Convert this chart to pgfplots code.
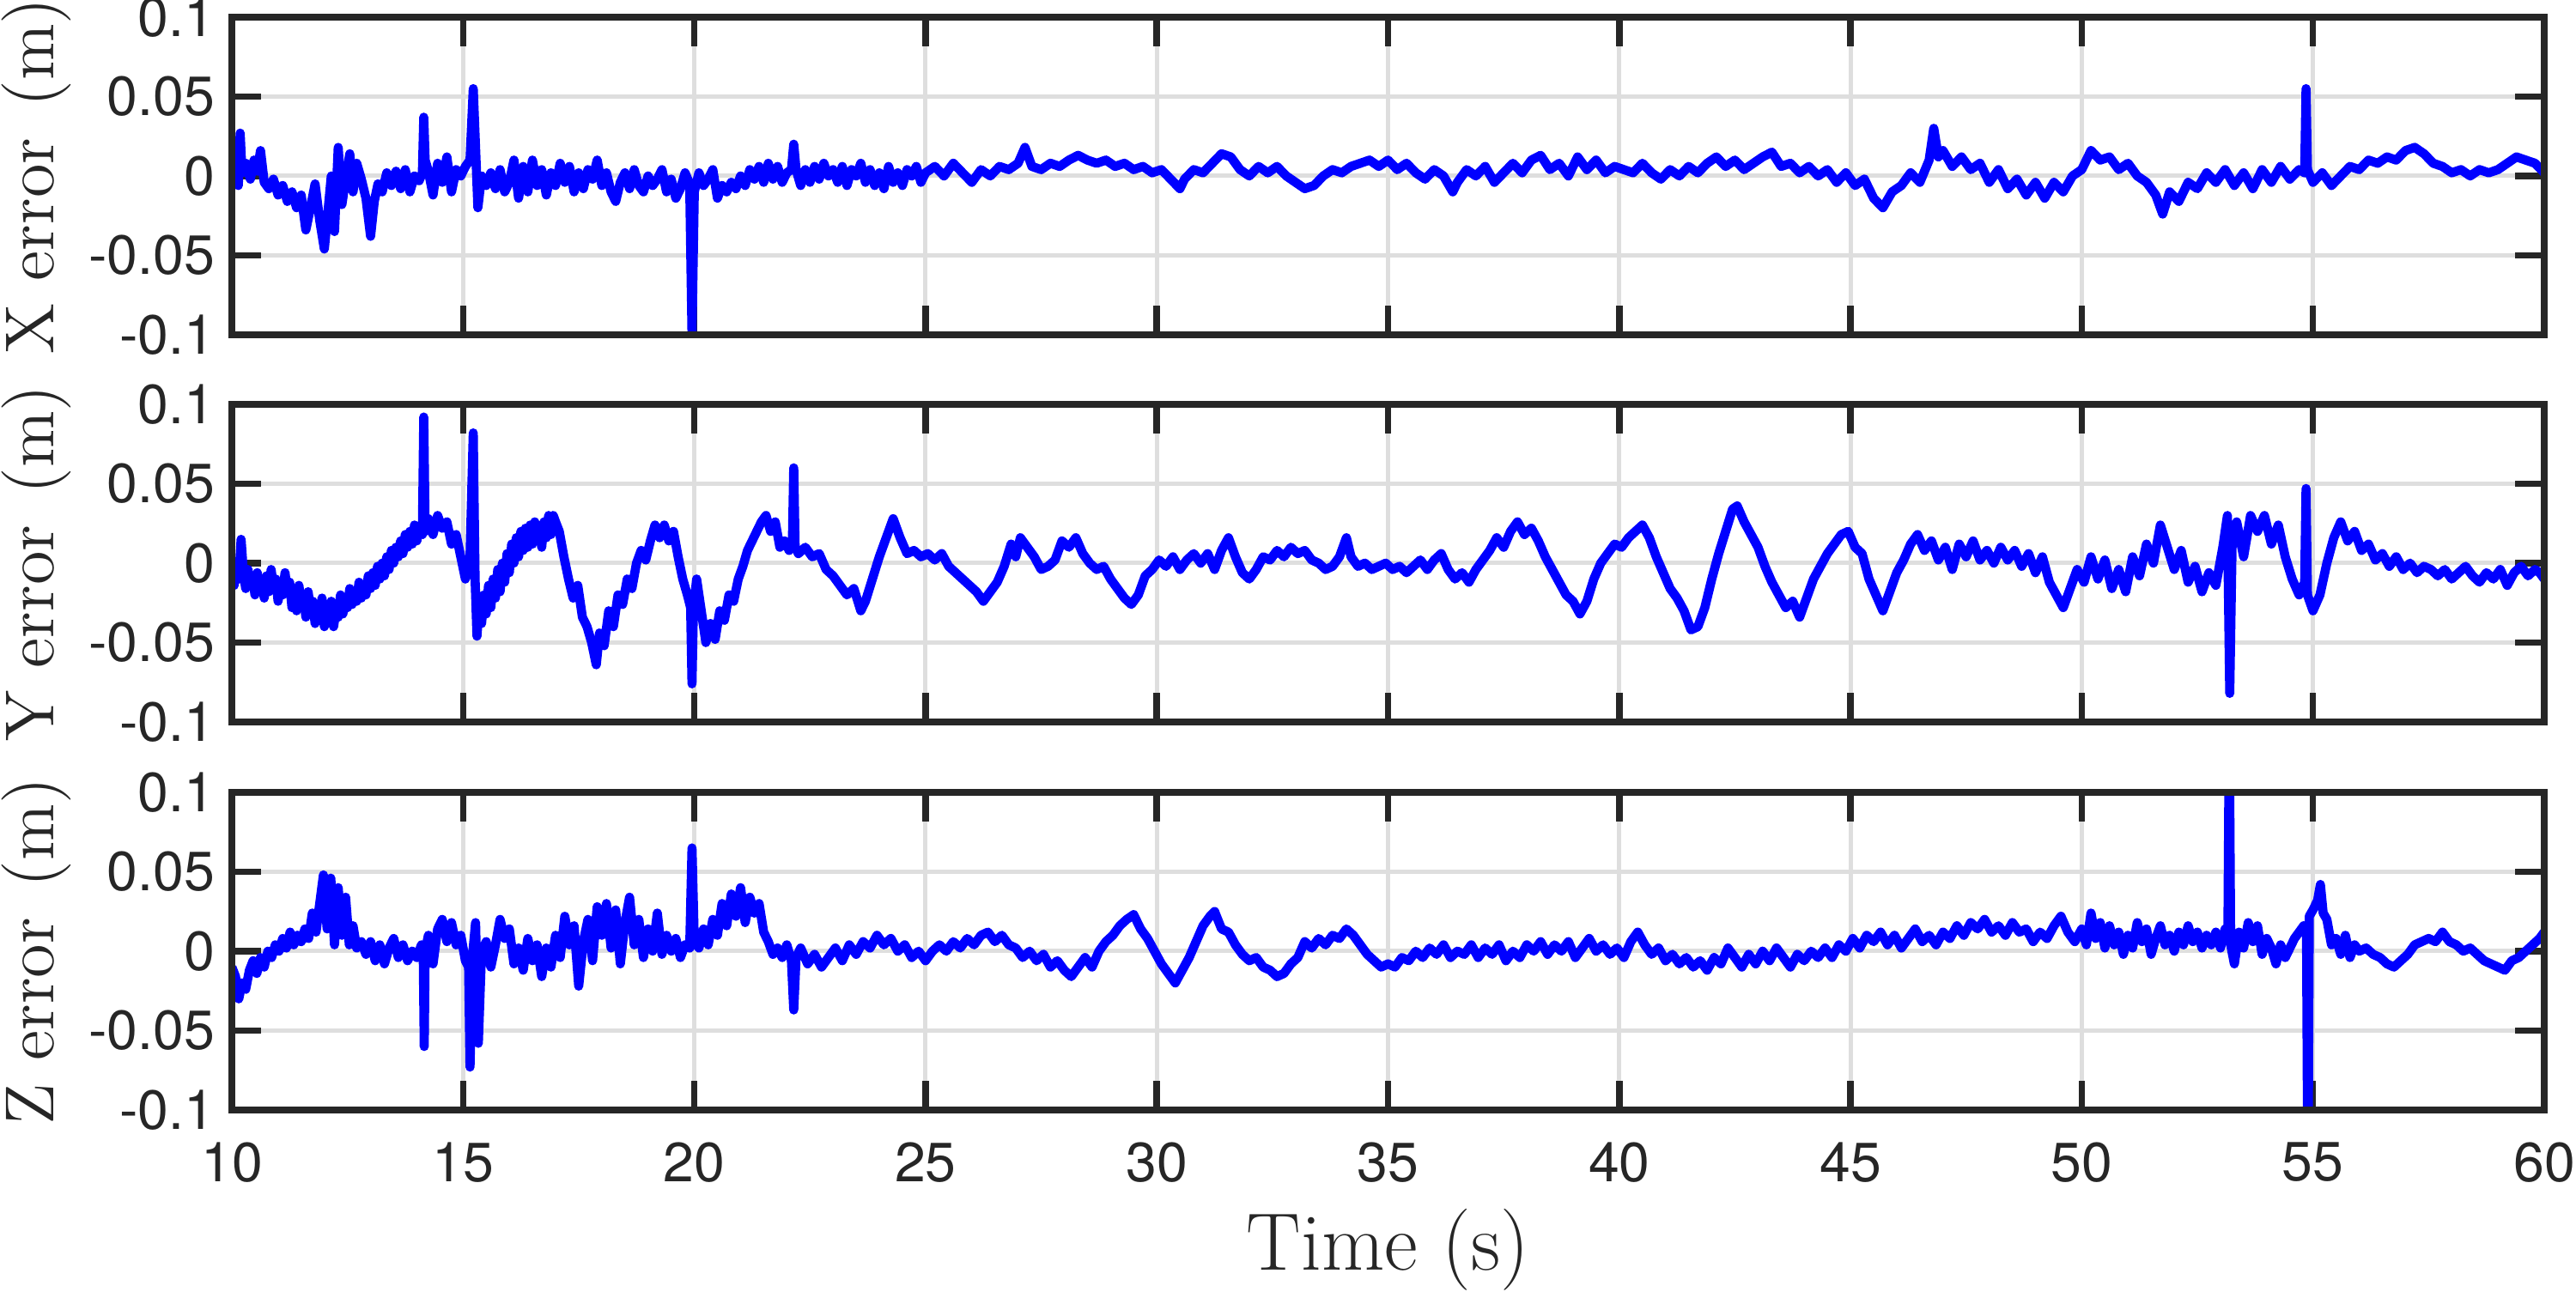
\documentclass[border=0pt]{standalone}
\usepackage{fontspec}
\usepackage{pgfplots}
\pgfplotsset{compat=1.18}
\usepackage{pgfplotstable}
\newfontfamily\tickfont{TeX Gyre Heros}
\definecolor{axgray}{RGB}{38,38,38}
\definecolor{grdgray}{RGB}{222,222,222}
\definecolor{lineblue}{RGB}{0,0,255}

\pgfplotstableread{
t v
10.00 -0.003
10.08 0.004
10.14 -0.006
10.18 0.027
10.22 0.002
10.30 0.008
10.40 -0.002
10.48 0.010
10.55 0.003
10.62 0.016
10.70 -0.004
10.80 -0.008
10.90 -0.002
11.00 -0.012
11.10 -0.006
11.20 -0.016
11.30 -0.010
11.40 -0.020
11.50 -0.012
11.60 -0.034
11.70 -0.020
11.80 -0.005
11.90 -0.028
12.00 -0.046
12.08 -0.022
12.15 0.000
12.22 -0.035
12.30 0.018
12.38 -0.018
12.45 -0.004
12.55 0.014
12.62 -0.010
12.70 0.008
12.80 -0.002
12.90 -0.014
13.00 -0.038
13.08 -0.016
13.16 -0.005
13.25 -0.010
13.35 0.002
13.45 -0.006
13.55 0.003
13.65 -0.008
13.75 0.004
13.85 -0.010
13.95 0.000
14.05 -0.003
14.12 0.002
14.15 0.037
14.18 0.010
14.25 0.003
14.35 -0.012
14.45 0.008
14.55 -0.004
14.65 0.012
14.75 -0.010
14.85 0.004
14.95 0.000
15.05 0.006
15.15 0.010
15.22 0.055
15.27 0.018
15.32 -0.020
15.40 0.000
15.50 -0.006
15.60 0.002
15.70 -0.008
15.80 0.004
15.90 -0.010
16.00 -0.004
16.10 0.010
16.20 -0.014
16.30 0.006
16.40 -0.010
16.50 0.010
16.60 -0.006
16.70 0.004
16.80 -0.012
16.90 0.002
17.00 -0.006
17.10 0.008
17.20 -0.004
17.30 0.006
17.40 -0.010
17.50 0.002
17.60 -0.008
17.70 0.004
17.80 -0.002
17.90 0.010
18.00 -0.006
18.10 0.002
18.20 -0.010
18.30 -0.016
18.40 -0.004
18.50 0.002
18.60 -0.008
18.70 0.004
18.80 -0.006
18.90 -0.010
19.00 0.000
19.10 -0.006
19.20 -0.002
19.30 0.004
19.40 -0.010
19.50 -0.002
19.60 -0.014
19.70 -0.008
19.80 0.002
19.90 -0.005
19.95 -0.100
20.00 -0.010
20.10 0.002
20.20 -0.006
20.30 -0.002
20.40 0.004
20.50 -0.014
20.60 -0.006
20.70 -0.010
20.80 -0.004
20.90 -0.008
21.00 0.000
21.10 -0.006
21.20 0.004
21.30 -0.002
21.40 0.006
21.50 -0.004
21.60 0.008
21.70 -0.002
21.80 0.006
21.90 -0.004
22.00 0.002
22.10 0.004
22.15 0.020
22.20 0.004
22.30 -0.006
22.40 0.004
22.50 -0.004
22.60 0.006
22.70 -0.002
22.80 0.008
22.90 0.000
23.00 0.004
23.10 -0.004
23.20 0.006
23.30 -0.006
23.40 0.004
23.50 0.000
23.60 0.008
23.70 -0.004
23.80 0.004
23.90 -0.006
24.00 0.002
24.10 -0.008
24.20 0.006
24.30 -0.004
24.40 0.002
24.50 -0.006
24.60 0.004
24.70 0.000
24.80 0.006
24.90 -0.004
25.00 0.002
25.20 0.006
25.40 0.000
25.60 0.008
25.80 0.002
26.00 -0.004
26.20 0.004
26.40 0.000
26.60 0.006
26.80 0.004
27.00 0.008
27.15 0.018
27.30 0.006
27.50 0.004
27.70 0.008
27.90 0.006
28.10 0.010
28.30 0.013
28.50 0.010
28.70 0.008
28.90 0.010
29.10 0.006
29.30 0.008
29.50 0.004
29.70 0.006
29.90 0.002
30.10 0.004
30.30 -0.002
30.50 -0.008
30.60 -0.002
30.80 0.004
31.00 0.002
31.20 0.008
31.40 0.014
31.60 0.012
31.80 0.004
32.00 0.000
32.20 0.006
32.40 0.002
32.60 0.006
32.80 0.000
33.00 -0.004
33.20 -0.008
33.40 -0.006
33.60 0.000
33.80 0.004
34.00 0.002
34.20 0.006
34.40 0.008
34.60 0.010
34.80 0.006
35.00 0.010
35.20 0.004
35.40 0.008
35.60 0.002
35.80 -0.002
36.00 0.004
36.20 0.000
36.40 -0.010
36.50 -0.004
36.70 0.004
36.90 0.000
37.10 0.006
37.30 -0.004
37.50 0.002
37.70 0.008
37.90 0.002
38.10 0.010
38.30 0.013
38.50 0.004
38.70 0.008
38.90 0.000
39.10 0.012
39.30 0.004
39.50 0.010
39.70 0.002
39.90 0.006
40.10 0.004
40.30 0.002
40.50 0.008
40.70 0.002
40.90 -0.002
41.10 0.004
41.30 0.000
41.50 0.006
41.70 0.002
41.90 0.008
42.10 0.012
42.30 0.006
42.50 0.010
42.70 0.004
42.90 0.008
43.10 0.012
43.30 0.015
43.50 0.006
43.70 0.008
43.90 0.002
44.10 0.006
44.30 0.000
44.50 0.004
44.70 -0.004
44.90 0.002
45.10 -0.006
45.30 -0.002
45.50 -0.014
45.70 -0.020
45.90 -0.010
46.10 -0.006
46.30 0.002
46.50 -0.004
46.70 0.010
46.80 0.030
46.90 0.012
47.00 0.016
47.20 0.006
47.40 0.012
47.60 0.004
47.80 0.008
48.00 -0.004
48.20 0.004
48.40 -0.008
48.60 -0.002
48.80 -0.012
49.00 -0.004
49.20 -0.014
49.40 -0.004
49.60 -0.010
49.80 0.000
50.00 0.004
50.20 0.016
50.40 0.010
50.60 0.012
50.80 0.004
51.00 0.008
51.20 0.000
51.40 -0.004
51.60 -0.012
51.75 -0.024
51.90 -0.010
52.10 -0.016
52.30 -0.004
52.50 -0.008
52.70 0.002
52.90 -0.004
53.10 0.004
53.30 -0.006
53.50 0.002
53.70 -0.008
53.90 0.004
54.10 -0.004
54.30 0.006
54.50 -0.002
54.70 0.004
54.82 0.002
54.85 0.055
54.88 0.004
55.00 -0.004
55.20 0.002
55.40 -0.006
55.60 0.000
55.80 0.006
56.00 0.004
56.20 0.010
56.40 0.008
56.60 0.012
56.80 0.010
57.00 0.016
57.20 0.018
57.40 0.014
57.60 0.008
57.80 0.006
58.00 0.002
58.20 0.004
58.40 0.000
58.60 0.004
58.80 0.002
59.00 0.004
59.20 0.008
59.40 0.012
59.60 0.010
59.80 0.008
60.00 0.002
}\xerr

\pgfplotstableread{
t v
10.00 -0.008
10.05 -0.014
10.10 -0.002
10.15 -0.010
10.20 0.015
10.25 -0.006
10.30 -0.016
10.35 -0.004
10.40 -0.014
10.45 -0.008
10.50 -0.020
10.55 -0.006
10.60 -0.016
10.65 -0.010
10.70 -0.022
10.75 -0.008
10.80 -0.018
10.85 -0.004
10.90 -0.016
10.95 -0.010
11.00 -0.024
11.05 -0.012
11.10 -0.020
11.15 -0.006
11.20 -0.018
11.25 -0.012
11.30 -0.028
11.35 -0.016
11.40 -0.030
11.45 -0.014
11.50 -0.026
11.55 -0.020
11.60 -0.034
11.65 -0.018
11.70 -0.030
11.75 -0.024
11.80 -0.038
11.85 -0.026
11.90 -0.034
11.95 -0.022
12.00 -0.040
12.05 -0.030
12.10 -0.036
12.15 -0.024
12.20 -0.040
12.25 -0.030
12.30 -0.034
12.35 -0.020
12.40 -0.032
12.45 -0.024
12.50 -0.028
12.55 -0.016
12.60 -0.026
12.65 -0.018
12.70 -0.024
12.75 -0.012
12.80 -0.022
12.85 -0.014
12.90 -0.020
12.95 -0.008
13.00 -0.016
13.05 -0.006
13.10 -0.014
13.15 -0.002
13.20 -0.010
13.25 0.000
13.30 -0.008
13.35 0.004
13.40 -0.004
13.45 0.008
13.50 0.000
13.55 0.010
13.60 0.004
13.65 0.014
13.70 0.006
13.75 0.018
13.80 0.010
13.85 0.020
13.90 0.012
13.95 0.024
14.00 0.014
14.05 0.022
14.12 0.018
14.15 0.092
14.18 0.020
14.25 0.028
14.35 0.018
14.45 0.030
14.55 0.022
14.65 0.026
14.75 0.012
14.85 0.018
14.95 0.004
15.05 -0.010
15.15 0.004
15.22 0.082
15.26 -0.010
15.30 -0.046
15.35 -0.026
15.40 -0.038
15.45 -0.020
15.50 -0.032
15.55 -0.014
15.60 -0.028
15.65 -0.010
15.70 -0.022
15.75 -0.004
15.80 -0.018
15.85 0.000
15.90 -0.012
15.95 0.006
16.00 -0.006
16.05 0.012
16.10 0.000
16.15 0.016
16.20 0.004
16.25 0.020
16.30 0.008
16.35 0.022
16.40 0.010
16.45 0.024
16.50 0.012
16.55 0.026
16.60 0.014
16.65 0.022
16.70 0.010
16.75 0.026
16.80 0.016
16.85 0.030
16.90 0.018
16.95 0.030
17.00 0.026
17.08 0.020
17.18 0.004
17.28 -0.010
17.38 -0.022
17.48 -0.014
17.58 -0.034
17.68 -0.040
17.78 -0.050
17.88 -0.064
17.95 -0.044
18.05 -0.052
18.15 -0.030
18.25 -0.040
18.35 -0.020
18.45 -0.026
18.55 -0.010
18.65 -0.016
18.75 0.000
18.85 0.008
18.95 0.002
19.05 0.014
19.15 0.024
19.25 0.016
19.35 0.024
19.45 0.014
19.55 0.020
19.65 0.004
19.75 -0.010
19.85 -0.020
19.92 -0.028
19.95 -0.076
19.98 -0.030
20.05 -0.010
20.15 -0.030
20.25 -0.050
20.35 -0.038
20.45 -0.048
20.55 -0.030
20.65 -0.036
20.75 -0.020
20.85 -0.024
20.95 -0.010
21.05 -0.002
21.15 0.008
21.25 0.014
21.35 0.020
21.45 0.026
21.55 0.030
21.65 0.020
21.75 0.026
21.85 0.010
21.95 0.014
22.05 0.008
22.12 0.012
22.15 0.060
22.18 0.010
22.25 0.006
22.40 0.010
22.55 0.004
22.70 0.006
22.85 -0.004
23.00 -0.008
23.15 -0.014
23.30 -0.020
23.45 -0.016
23.60 -0.030
23.70 -0.024
23.85 -0.010
24.00 0.004
24.15 0.016
24.30 0.028
24.45 0.016
24.60 0.006
24.75 0.008
24.90 0.004
25.05 0.006
25.20 0.002
25.35 0.006
25.50 -0.002
25.65 -0.006
25.80 -0.010
25.95 -0.014
26.10 -0.018
26.25 -0.024
26.40 -0.018
26.55 -0.012
26.70 -0.002
26.85 0.012
26.95 0.004
27.05 0.016
27.20 0.010
27.35 0.004
27.50 -0.004
27.65 -0.002
27.80 0.002
27.95 0.014
28.10 0.010
28.25 0.016
28.40 0.006
28.55 0.000
28.70 -0.004
28.85 -0.002
29.00 -0.010
29.15 -0.016
29.30 -0.022
29.45 -0.026
29.60 -0.020
29.75 -0.008
29.90 -0.004
30.05 0.002
30.20 -0.002
30.35 0.004
30.50 -0.004
30.65 0.002
30.80 0.006
30.95 0.000
31.10 0.006
31.25 -0.004
31.40 0.008
31.55 0.016
31.70 0.004
31.85 -0.006
32.00 -0.010
32.15 -0.004
32.30 0.004
32.45 0.002
32.60 0.008
32.75 0.004
32.90 0.010
33.05 0.006
33.20 0.008
33.35 0.002
33.50 0.000
33.65 -0.004
33.80 -0.002
33.95 0.004
34.10 0.016
34.20 0.004
34.35 -0.002
34.50 0.000
34.65 -0.004
34.80 -0.002
34.95 0.000
35.10 -0.004
35.25 -0.002
35.40 -0.006
35.55 -0.002
35.70 0.002
35.85 -0.004
36.00 0.002
36.15 0.006
36.30 -0.004
36.45 -0.010
36.60 -0.006
36.75 -0.012
36.90 -0.004
37.05 0.002
37.20 0.008
37.35 0.016
37.50 0.010
37.65 0.020
37.80 0.026
37.95 0.018
38.10 0.022
38.25 0.014
38.40 0.004
38.55 -0.004
38.70 -0.012
38.85 -0.020
39.00 -0.024
39.15 -0.032
39.30 -0.024
39.45 -0.010
39.60 0.000
39.75 0.006
39.90 0.012
40.05 0.010
40.20 0.016
40.35 0.020
40.50 0.024
40.65 0.016
40.80 0.004
40.95 -0.006
41.10 -0.016
41.25 -0.022
41.40 -0.030
41.55 -0.042
41.70 -0.040
41.85 -0.028
42.00 -0.010
42.15 0.006
42.30 0.020
42.45 0.034
42.55 0.036
42.70 0.026
42.85 0.018
43.00 0.010
43.15 -0.002
43.30 -0.012
43.45 -0.020
43.60 -0.028
43.75 -0.024
43.90 -0.034
44.05 -0.022
44.20 -0.010
44.35 -0.002
44.50 0.006
44.65 0.012
44.80 0.018
44.95 0.020
45.10 0.010
45.25 0.006
45.40 -0.010
45.55 -0.020
45.70 -0.030
45.85 -0.018
46.00 -0.006
46.15 0.002
46.30 0.012
46.45 0.018
46.60 0.008
46.75 0.014
46.90 0.002
47.05 0.010
47.20 -0.004
47.35 0.012
47.50 0.004
47.65 0.014
47.80 0.002
47.95 0.008
48.10 0.000
48.25 0.010
48.40 0.002
48.55 0.008
48.70 -0.002
48.85 0.006
49.00 -0.006
49.15 0.004
49.30 -0.012
49.45 -0.020
49.60 -0.028
49.75 -0.016
49.90 -0.004
50.05 -0.012
50.20 0.004
50.35 -0.010
50.50 0.002
50.65 -0.016
50.80 -0.004
50.95 -0.018
51.10 0.004
51.25 -0.008
51.40 0.012
51.55 0.000
51.70 0.024
51.85 0.010
52.00 -0.004
52.15 0.008
52.30 -0.012
52.45 -0.002
52.60 -0.018
52.75 -0.006
52.90 -0.014
53.05 0.010
53.15 0.030
53.20 -0.082
53.25 0.010
53.35 0.026
53.50 0.004
53.65 0.030
53.80 0.020
53.95 0.030
54.10 0.012
54.25 0.024
54.40 0.004
54.55 -0.010
54.70 -0.020
54.82 -0.012
54.85 0.047
54.88 -0.020
55.00 -0.030
55.15 -0.020
55.30 0.000
55.45 0.016
55.60 0.026
55.75 0.014
55.90 0.020
56.05 0.008
56.20 0.012
56.35 0.002
56.50 0.006
56.65 -0.002
56.80 0.004
56.95 -0.004
57.10 0.000
57.25 -0.006
57.40 -0.002
57.55 -0.004
57.70 -0.008
57.85 -0.004
58.00 -0.010
58.15 -0.006
58.30 -0.002
58.45 -0.008
58.60 -0.012
58.75 -0.006
58.90 -0.010
59.05 -0.004
59.20 -0.014
59.35 -0.006
59.50 -0.002
59.65 -0.008
59.80 -0.004
59.90 -0.006
60.00 -0.010
}\yerr

\pgfplotstableread{
t v
10.00 -0.010
10.08 -0.016
10.15 -0.030
10.22 -0.020
10.30 -0.024
10.38 -0.012
10.46 -0.006
10.54 -0.014
10.62 -0.004
10.70 -0.010
10.78 0.000
10.86 -0.004
10.94 0.004
11.02 0.000
11.10 0.008
11.18 0.002
11.26 0.012
11.34 0.004
11.42 0.010
11.50 0.006
11.58 0.014
11.66 0.008
11.74 0.024
11.82 0.012
11.90 0.030
11.98 0.048
12.06 0.014
12.14 0.046
12.22 0.004
12.30 0.040
12.38 0.010
12.46 0.034
12.54 0.004
12.62 0.016
12.70 0.002
12.80 0.006
12.90 -0.002
13.00 0.006
13.10 -0.006
13.20 0.004
13.30 -0.008
13.40 0.002
13.50 0.008
13.60 -0.004
13.70 0.004
13.80 -0.006
13.90 0.000
14.00 -0.004
14.10 0.004
14.14 -0.004
14.16 -0.060
14.18 0.000
14.25 0.010
14.35 -0.008
14.45 0.014
14.55 0.020
14.65 0.006
14.75 0.018
14.85 0.004
14.95 0.010
15.05 -0.006
15.12 -0.010
15.15 -0.073
15.20 -0.004
15.27 0.018
15.33 -0.058
15.40 0.000
15.50 0.006
15.60 -0.010
15.70 0.004
15.80 0.020
15.90 0.008
16.00 0.014
16.10 -0.008
16.20 0.002
16.30 -0.012
16.40 0.008
16.50 -0.006
16.60 0.004
16.70 -0.016
16.80 0.002
16.90 -0.010
17.00 0.010
17.10 -0.004
17.20 0.022
17.30 0.004
17.40 0.016
17.50 -0.022
17.60 0.006
17.70 0.020
17.80 -0.006
17.90 0.028
18.00 0.010
18.10 0.030
18.20 0.002
18.30 0.026
18.40 -0.008
18.50 0.018
18.60 0.034
18.70 0.004
18.80 0.020
18.90 -0.004
19.00 0.014
19.10 0.000
19.20 0.024
19.30 -0.002
19.40 0.010
19.50 0.000
19.60 0.008
19.70 -0.004
19.80 0.004
19.90 0.002
19.95 0.065
20.00 0.006
20.10 0.002
20.20 0.014
20.30 0.004
20.40 0.020
20.50 0.010
20.60 0.030
20.70 0.016
20.80 0.036
20.90 0.022
21.00 0.040
21.10 0.018
21.20 0.034
21.30 0.024
21.40 0.030
21.50 0.012
21.60 0.006
21.70 -0.002
21.80 0.002
21.90 -0.004
22.00 0.004
22.10 -0.006
22.15 -0.037
22.20 -0.004
22.30 0.002
22.45 -0.008
22.60 -0.002
22.75 -0.010
22.90 -0.004
23.05 0.002
23.20 -0.006
23.35 0.004
23.50 -0.002
23.65 0.006
23.80 0.002
23.95 0.010
24.10 0.004
24.25 0.008
24.40 0.000
24.55 0.004
24.70 -0.004
24.85 0.000
25.00 -0.006
25.15 0.000
25.30 0.004
25.45 0.000
25.60 0.006
25.75 0.002
25.90 0.008
26.05 0.004
26.20 0.010
26.35 0.012
26.50 0.006
26.65 0.010
26.80 0.004
26.95 0.002
27.10 -0.004
27.25 0.000
27.40 -0.006
27.55 -0.002
27.70 -0.010
27.85 -0.006
28.00 -0.012
28.15 -0.016
28.30 -0.010
28.45 -0.004
28.60 -0.010
28.75 0.000
28.90 0.006
29.05 0.010
29.20 0.016
29.35 0.020
29.50 0.023
29.65 0.014
29.80 0.008
29.95 0.000
30.10 -0.008
30.25 -0.014
30.40 -0.020
30.55 -0.012
30.70 -0.004
30.85 0.006
31.00 0.016
31.15 0.022
31.25 0.025
31.40 0.014
31.55 0.012
31.70 0.004
31.85 -0.002
32.00 -0.006
32.15 -0.004
32.30 -0.010
32.45 -0.012
32.60 -0.016
32.75 -0.014
32.90 -0.008
33.05 -0.004
33.20 0.006
33.35 0.002
33.50 0.008
33.65 0.004
33.80 0.010
33.95 0.008
34.10 0.014
34.25 0.010
34.40 0.004
34.55 -0.002
34.70 -0.006
34.85 -0.010
35.00 -0.008
35.15 -0.010
35.30 -0.004
35.45 -0.006
35.60 0.000
35.75 -0.004
35.90 0.002
36.05 -0.002
36.20 0.004
36.35 -0.004
36.50 0.000
36.65 -0.002
36.80 0.004
36.95 -0.004
37.10 0.002
37.25 -0.002
37.40 0.004
37.55 -0.006
37.70 0.000
37.85 -0.004
38.00 0.004
38.15 0.000
38.30 0.006
38.45 -0.002
38.60 0.004
38.75 0.000
38.90 0.006
39.05 -0.004
39.20 0.002
39.35 0.008
39.50 0.000
39.65 0.004
39.80 -0.002
39.95 0.002
40.10 -0.004
40.25 0.006
40.40 0.012
40.55 0.004
40.70 -0.002
40.85 0.002
41.00 -0.006
41.15 -0.002
41.30 -0.008
41.45 -0.004
41.60 -0.010
41.75 -0.006
41.90 -0.012
42.05 -0.004
42.20 -0.008
42.35 0.002
42.50 -0.004
42.65 -0.010
42.80 -0.002
42.95 -0.008
43.10 0.000
43.25 -0.006
43.40 0.002
43.55 -0.004
43.70 -0.010
43.85 -0.002
44.00 -0.006
44.15 0.000
44.30 -0.004
44.45 0.002
44.60 -0.004
44.75 0.004
44.90 0.000
45.05 0.008
45.20 0.002
45.35 0.010
45.50 0.006
45.65 0.012
45.80 0.004
45.95 0.010
46.10 0.002
46.25 0.008
46.40 0.014
46.55 0.006
46.70 0.010
46.85 0.004
47.00 0.012
47.15 0.008
47.30 0.016
47.45 0.010
47.60 0.018
47.75 0.014
47.90 0.020
48.05 0.012
48.20 0.016
48.35 0.010
48.50 0.018
48.65 0.012
48.80 0.014
48.95 0.006
49.10 0.012
49.25 0.008
49.40 0.016
49.55 0.022
49.70 0.012
49.85 0.006
50.00 0.014
50.10 0.004
50.20 0.024
50.30 0.008
50.40 0.018
50.50 0.002
50.60 0.016
50.70 0.004
50.80 0.012
50.90 -0.002
51.00 0.010
51.10 0.002
51.20 0.018
51.30 0.006
51.40 0.014
51.50 -0.002
51.60 0.008
51.70 0.016
51.80 0.004
51.90 0.010
52.00 0.000
52.10 0.012
52.20 0.004
52.30 0.016
52.40 0.006
52.50 0.012
52.60 0.002
52.70 0.010
52.80 0.004
52.90 0.012
53.00 0.002
53.10 0.014
53.16 0.010
53.18 0.100
53.20 0.100
53.22 0.004
53.30 -0.008
53.40 0.012
53.50 0.002
53.60 0.018
53.70 0.006
53.80 0.016
53.90 -0.002
54.00 0.008
54.10 0.002
54.20 -0.008
54.30 0.004
54.40 -0.004
54.50 0.002
54.60 0.008
54.70 0.012
54.80 0.016
54.86 0.014
54.88 -0.100
54.90 -0.100
54.92 0.022
55.00 0.026
55.10 0.032
55.16 0.042
55.22 0.024
55.30 0.020
55.40 0.004
55.50 0.008
55.60 -0.002
55.70 0.010
55.80 -0.004
55.90 0.004
56.00 0.000
56.15 0.002
56.30 -0.002
56.45 -0.004
56.60 -0.008
56.75 -0.010
56.90 -0.006
57.05 -0.002
57.20 0.004
57.35 0.006
57.50 0.008
57.65 0.006
57.80 0.012
57.95 0.006
58.10 0.004
58.25 0.000
58.40 0.002
58.55 -0.002
58.70 -0.006
58.85 -0.008
59.00 -0.010
59.15 -0.012
59.30 -0.006
59.45 -0.004
59.60 0.000
59.75 0.004
59.90 0.008
60.00 0.012
}\zerr

\pgfplotsset{
  errax/.style={
    scale only axis, width=430.88pt, height=59.2pt,
    anchor=south west,
    xmin=10, xmax=60, ymin=-0.1, ymax=0.1,
    xtick={10,15,20,25,30,35,40,45,50,55,60},
    ytick={-0.1,-0.05,0,0.05,0.1},
    yticklabels={-0.1,-0.05,0,0.05,0.1},
    tick align=inside, xtick pos=both, ytick pos=both,
    major tick length=5.4pt,
    every tick/.style={axgray, line width=1.2pt},
    grid=major,
    major grid style={grdgray, line width=0.8pt},
    axis line style={axgray, line width=1.2pt},
    /pgf/number format/assume math mode=true,
    ticklabel style={font=\tickfont\fontsize{10.3}{12}\selectfont, text=axgray, inner sep=0pt},
    yticklabel style={anchor=east, xshift=-3pt},
    xticklabel style={anchor=north, yshift=-5.9pt},
    ylabel style={at={(axis description cs:-0.07687,0.5)}, anchor=base, text=axgray,
                  font=\fontsize{12.9}{16}\selectfont},
    xlabel style={at={(axis description cs:0.5,0)}, anchor=base, yshift=-29.9pt, text=axgray,
                  font=\fontsize{15.2}{18}\selectfont},
    clip=true,
  },
  errline/.style={lineblue, line width=1.7pt, line join=round, no markers},
}

\begin{document}
\begin{tikzpicture}
\begin{axis}[errax, at={(43.2pt,178.4pt)}, xticklabels={},
  ylabel={X error\hspace{0.12em} (m)}]
  \addplot[errline] table[x=t, y=v] {\xerr};
  \draw[axgray, line width=1.2pt] (rel axis cs:0,0) rectangle (rel axis cs:1,1);
\end{axis}
\begin{axis}[errax, at={(43.2pt,106.24pt)}, xticklabels={},
  ylabel={Y error\hspace{0.12em} (m)}]
  \addplot[errline] table[x=t, y=v] {\yerr};
  \draw[axgray, line width=1.2pt] (rel axis cs:0,0) rectangle (rel axis cs:1,1);
\end{axis}
\begin{axis}[errax, at={(43.2pt,33.92pt)},
  xticklabels={10,15,20,25,30,35,40,45,50,55,60},
  ylabel={Z error\hspace{0.12em} (m)}, xlabel={Time (s)}]
  \addplot[errline] table[x=t, y=v] {\zerr};
  \draw[axgray, line width=1.2pt] (rel axis cs:0,0) rectangle (rel axis cs:1,1);
\end{axis}
\pgfresetboundingbox
\path[use as bounding box] (0,0) rectangle (480pt,240.8pt);
\end{tikzpicture}
\end{document}
